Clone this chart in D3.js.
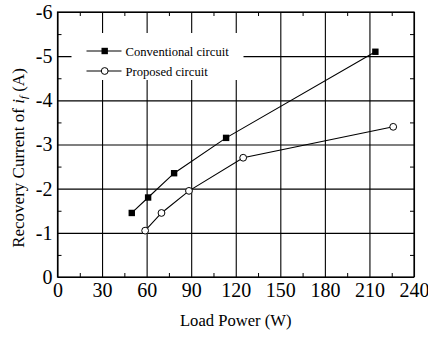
<!DOCTYPE html>
<html lang="en">
<head>
  <meta charset="UTF-8">
  <title>Recovery current vs load power</title>
  <style>
    body { margin: 0; background: #fff; }
    text { font-family: "Liberation Serif", "Times New Roman", serif; fill: #000; }
  </style>
</head>
<body>
<script src="https://d3js.org/d3.v7.min.js"></script>
<script>

  // data
  var convPower = [50, 61, 78.5, 113.5, 214];
  var convCurrent = [-1.45, -1.8, -2.35, -3.15, -5.1];
  var propPower = [59, 70, 88.5, 125, 226];
  var propCurrent = [-1.05, -1.45, -1.95, -2.7, -3.4];
  var xTicks = [0, 30, 60, 90, 120, 150, 180, 210, 240];
  var yTicks = [0, -1, -2, -3, -4, -5, -6];
  var legendNames = ["Conventional circuit", "Proposed circuit"];

  var w = 428, h = 338;
  var margin = {top: 12, right: 14, bottom: 61, left: 57.5};
  var iw = w - margin.left - margin.right;
  var ih = h - margin.top - margin.bottom;

  var svg = d3.select("body").append("svg")
    .attr("width", w)
    .attr("height", h);

  var g = svg.append("g")
    .attr("transform", "translate(" + margin.left + "," + margin.top + ")");

  var x = d3.scaleLinear().domain([0, 240]).range([0, iw]);
  var y = d3.scaleLinear().domain([0, -6]).range([ih, 0]);

  // grid
  g.append("g")
    .attr("transform", "translate(0," + ih + ")")
    .call(d3.axisBottom(x).tickValues(xTicks).tickSize(-ih).tickFormat(""))
    .call(s => s.select(".domain").remove())
    .selectAll("line").attr("stroke", "#000").attr("stroke-width", 1.1);

  g.append("g")
    .call(d3.axisLeft(y).tickValues(yTicks).tickSize(-iw).tickFormat(""))
    .call(s => s.select(".domain").remove())
    .selectAll("line").attr("stroke", "#000").attr("stroke-width", 1.1);

  // minor ticks, pointing in
  var xMinor = d3.range(15, 240, 30);
  var yMinor = d3.range(-0.5, -6, -1);
  g.append("g").attr("transform", "translate(0," + ih + ")")
    .call(d3.axisTop(x).tickValues(xMinor).tickSize(4).tickFormat(""))
    .call(s => s.select(".domain").remove());
  g.append("g")
    .call(d3.axisBottom(x).tickValues(xMinor).tickSize(4).tickFormat(""))
    .call(s => s.select(".domain").remove());
  g.append("g")
    .call(d3.axisRight(y).tickValues(yMinor).tickSize(4).tickFormat(""))
    .call(s => s.select(".domain").remove());
  g.append("g").attr("transform", "translate(" + iw + ",0)")
    .call(d3.axisLeft(y).tickValues(yMinor).tickSize(4).tickFormat(""))
    .call(s => s.select(".domain").remove());

  // tick labels
  g.append("g")
    .attr("transform", "translate(0," + ih + ")")
    .call(d3.axisBottom(x).tickValues(xTicks).tickSize(0).tickPadding(6).tickFormat(d => String(d)))
    .call(s => s.select(".domain").remove())
    .selectAll("text")
    .attr("font-size", 20)
    .attr("dy", "0.71em");

  g.append("g")
    .call(d3.axisLeft(y).tickValues(yTicks).tickSize(0).tickPadding(5).tickFormat(d => String(d)))
    .call(s => s.select(".domain").remove())
    .selectAll("text")
    .attr("font-size", 20);

  // frame
  g.append("rect")
    .attr("width", iw).attr("height", ih)
    .attr("fill", "none").attr("stroke", "#000").attr("stroke-width", 1.2);

  // legend (white box hides the grid)
  var leg = g.append("g").attr("transform", "translate(14,21)");
  leg.append("rect")
    .attr("width", 172).attr("height", 47)
    .attr("fill", "#fff");

  var line = d3.line().x(d => x(d[0])).y(d => y(d[1]));
  var conv = d3.zip(convPower, convCurrent);
  var prop = d3.zip(propPower, propCurrent);

  g.append("path").datum(conv).attr("d", line)
    .attr("fill", "none").attr("stroke", "#000").attr("stroke-width", 1.1);
  g.append("path").datum(prop).attr("d", line)
    .attr("fill", "none").attr("stroke", "#000").attr("stroke-width", 1.1);

  g.selectAll(".sq").data(conv).enter().append("rect")
    .attr("x", d => x(d[0]) - 3.2).attr("y", d => y(d[1]) - 3.2)
    .attr("width", 6.4).attr("height", 6.4).attr("fill", "#000");

  g.selectAll(".ci").data(prop).enter().append("circle")
    .attr("cx", d => x(d[0])).attr("cy", d => y(d[1])).attr("r", 3.4)
    .attr("fill", "#fff").attr("stroke", "#000").attr("stroke-width", 1);

  legendNames.forEach(function(name, i) {
    var row = leg.append("g").attr("transform", "translate(0," + (18 + i * 20) + ")");
    row.append("line").attr("x1", 15).attr("x2", 50).attr("stroke", "#000").attr("stroke-width", 1.1);
    if (i === 0) {
      row.append("rect").attr("x", 30).attr("y", -3.2).attr("width", 6.4).attr("height", 6.4).attr("fill", "#000");
    } else {
      row.append("circle").attr("cx", 33.2).attr("r", 3.4).attr("fill", "#fff").attr("stroke", "#000");
    }
    row.append("text").attr("x", 54).attr("y", 4.5).attr("font-size", 12.6).text(name);
  });

  // axis titles
  svg.append("text")
    .attr("x", margin.left + iw / 2).attr("y", 326)
    .attr("text-anchor", "middle").attr("font-size", 16.6)
    .text("Load Power (W)");

  var yt = svg.append("text")
    .attr("transform", "translate(24,158) rotate(-90)")
    .attr("text-anchor", "middle").attr("font-size", 17);
  yt.append("tspan").text("Recovery Current of ");
  yt.append("tspan").attr("font-style", "italic").text("i");
  yt.append("tspan").attr("font-style", "italic").attr("font-size", 11).attr("dy", 3).text("f");
  yt.append("tspan").attr("dy", -3).text(" (A)");

</script>
</body>
</html>
